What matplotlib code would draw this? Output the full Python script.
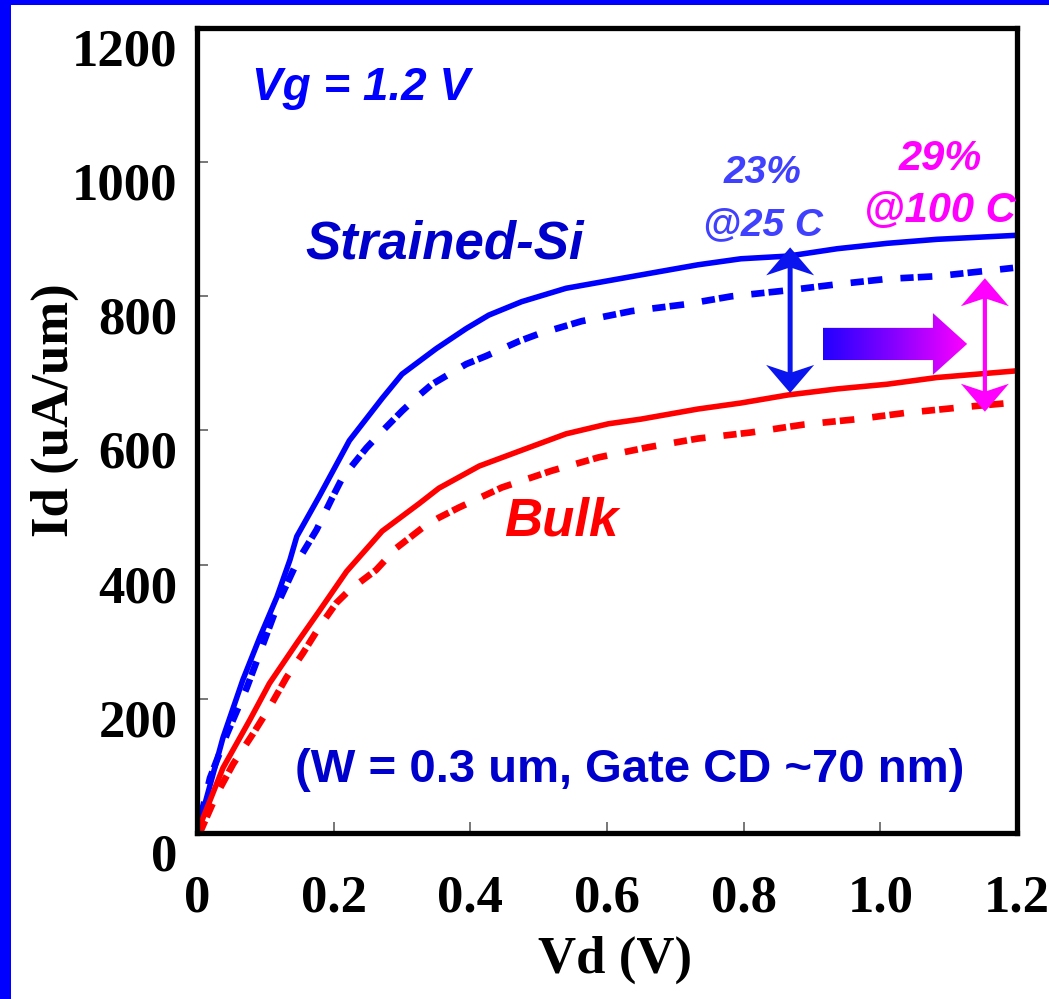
import numpy as np
import matplotlib
matplotlib.use("Agg")
import matplotlib.pyplot as plt
from matplotlib.patches import Polygon, Rectangle
from matplotlib.colors import LinearSegmentedColormap
from matplotlib import transforms

# Id-Vd curves, Vg = 1.2 V
VD_SS_25 = [0, 0.038, 0.067, 0.092, 0.117, 0.136, 0.146, 0.179, 0.223, 0.271, 0.30, 0.35,
            0.394, 0.427, 0.475, 0.54, 0.65, 0.733, 0.796, 0.865, 0.937, 1.01, 1.083, 1.2]
ID_SS_25 = [0, 142, 228, 292, 352, 407, 442, 502, 585, 648, 684, 722,
            752, 772, 792, 812, 832, 847, 856, 860, 871, 879, 885, 891]

VD_SS_100 = [0, 0.019, 0.044, 0.073, 0.099, 0.121, 0.146, 0.175, 0.198, 0.213, 0.248, 0.271,
             0.30, 0.321, 0.344, 0.394, 0.423, 0.471, 0.50, 0.563, 0.636, 0.714, 0.782,
             0.865, 0.937, 1.01, 1.083, 1.2]
ID_SS_100 = [0, 82, 148, 217, 288, 348, 403, 452, 500, 530, 574, 599,
             629, 649, 669, 699, 711, 733, 744, 763, 778, 788, 800,
             809, 818, 826, 830, 843]

VD_BULK_25 = [0, 0.038, 0.077, 0.106, 0.146, 0.179, 0.219, 0.271, 0.325, 0.354, 0.413,
              0.471, 0.54, 0.602, 0.65, 0.733, 0.796, 0.865, 0.937, 1.01, 1.083, 1.2]
ID_BULK_25 = [0, 97, 168, 223, 283, 331, 390, 450, 491, 514, 547,
              569, 595, 610, 617, 632, 641, 653, 662, 669, 679, 689]

VD_BULK_100 = [0.004, 0.029, 0.053, 0.082, 0.106, 0.131, 0.155, 0.179, 0.204, 0.223, 0.262,
               0.292, 0.33, 0.354, 0.383, 0.446, 0.519, 0.588, 0.66, 0.733, 0.81, 0.889,
               0.967, 1.035, 1.123, 1.2]
ID_BULK_100 = [0, 58, 103, 148, 187, 232, 268, 307, 343, 362, 392,
               425, 455, 470, 485, 515, 540, 560, 575, 588, 597, 609,
               617, 626, 635, 642]

X_TICKS = [0, 0.2, 0.4, 0.6, 0.8, 1.0, 1.2]
X_TICK_LABELS = ["0", "0.2", "0.4", "0.6", "0.8", "1.0", "1.2"]
Y_TICKS = [0, 200, 400, 600, 800, 1000, 1200]

# annotation arrows (data coords)
GAIN_25 = (0.868, 873, 656)     # x, top tip, bottom tip
GAIN_100 = (1.153, 827, 628)
TEMP_ARROW = [(0.916, 753), (1.077, 753), (1.077, 775), (1.127, 729),
              (1.077, 683), (1.077, 705), (0.916, 705)]

BLUE = "#0000ff"
RED = "#ff0000"
MAGENTA = "#ff00ff"

plt.rcParams["lines.scale_dashes"] = False

fig = plt.figure(figsize=(10.49, 9.99), dpi=100)
ax = fig.add_axes([197 / 1049, 1 - 833 / 999, 820 / 1049, 805 / 999])

lw_solid = 4.0
lw_dash = 4.8
dash = (9.5, 3, 10.5, 13)
ax.plot(VD_SS_25, ID_SS_25, color=BLUE, lw=lw_solid, solid_joinstyle="round")
ax.plot(VD_SS_100, ID_SS_100, color=BLUE, lw=lw_dash, dashes=dash, dash_capstyle="butt")
ax.plot(VD_BULK_25, ID_BULK_25, color=RED, lw=lw_solid, solid_joinstyle="round")
ax.plot(VD_BULK_100, ID_BULK_100, color=RED, lw=lw_dash, dashes=dash, dash_capstyle="butt")

ax.set_xlim(0, 1.2)
ax.set_ylim(0, 1200)


def stealth(x, y, up, color):
    s = 1 if up else -1
    verts = np.array([(0, 0), (-24, -28 * s), (0, -20 * s), (24, -28 * s)]) / 100.0
    tr = fig.dpi_scale_trans + transforms.ScaledTranslation(x, y, ax.transData)
    ax.add_patch(Polygon(verts, closed=True, transform=tr, facecolor=color,
                         edgecolor="none", zorder=6))


def double_arrow(spec, color, lw):
    x, top, bot = spec
    ax.annotate("", xy=(x, top), xytext=(x, bot),
                arrowprops=dict(arrowstyle="-", lw=lw, color=color,
                                shrinkA=13, shrinkB=13), zorder=5)
    stealth(x, top, True, color)
    stealth(x, bot, False, color)


double_arrow(GAIN_25, "#0a14ee", 3.6)
double_arrow(GAIN_100, MAGENTA, 3.0)

# gradient block arrow (25 C -> 100 C)
poly = Polygon(TEMP_ARROW, closed=True, transform=ax.transData)
xs = [p[0] for p in TEMP_ARROW]
ys = [p[1] for p in TEMP_ARROW]
cmap = LinearSegmentedColormap.from_list("t", ["#2200ff", "#8800ff", MAGENTA])
im = ax.imshow(np.linspace(0, 1, 256).reshape(1, -1), cmap=cmap, aspect="auto",
               extent=(min(xs), max(xs), min(ys), max(ys)), zorder=4)
im.set_clip_path(poly)
ax.set_xlim(0, 1.2)
ax.set_ylim(0, 1200)

# texts
sans = "Liberation Sans"
ax.text(0.08, 1093, "Vg = 1.2 V", color=BLUE, fontsize=33, fontweight="bold",
        fontstyle="italic", family=sans, va="baseline", ha="left")
ax.text(0.158, 857, "Strained-Si", color="#0000cc", fontsize=38, fontweight="bold",
        fontstyle="italic", family=sans, va="baseline", ha="left")
ax.text(0.45, 444, "Bulk", color=RED, fontsize=38, fontweight="bold",
        fontstyle="italic", family=sans, va="baseline", ha="left")
ax.text(0.633, 76, "(W = 0.3 um, Gate CD ~70 nm)", color="#0000cc", fontsize=34,
        fontweight="bold", family=sans, va="baseline", ha="center")
ax.text(0.828, 969, "23%", color="#4040ff", fontsize=28, fontweight="bold",
        fontstyle="italic", family=sans, va="baseline", ha="center")
ax.text(0.828, 891, "@25 C", color="#4040ff", fontsize=28, fontweight="bold",
        fontstyle="italic", family=sans, va="baseline", ha="center")
ax.text(1.087, 988, "29%", color=MAGENTA, fontsize=30, fontweight="bold",
        fontstyle="italic", family=sans, va="baseline", ha="center")
ax.text(1.087, 911, "@100 C", color=MAGENTA, fontsize=30, fontweight="bold",
        fontstyle="italic", family=sans, va="baseline", ha="center")

# axes styling
serif = dict(family="Liberation Serif", fontweight="bold", fontsize=38)
ax.set_xticks(X_TICKS)
ax.set_xticklabels(X_TICK_LABELS, **serif)
ax.set_yticks(Y_TICKS)
ax.set_yticklabels([str(v) for v in Y_TICKS], **serif)
ax.tick_params(direction="in", length=8, width=1.2, color="#606060")
ax.tick_params(axis="x", pad=30)
ax.tick_params(axis="y", pad=14)
for lab in ax.get_yticklabels():
    lab.set_transform(lab.get_transform() +
                      transforms.ScaledTranslation(0, -0.19, fig.dpi_scale_trans))
for sp in ax.spines.values():
    sp.set_linewidth(3.8)
    sp.set_color("black")

ax.set_xlabel("Vd (V)", va="center", **serif)
ax.xaxis.set_label_coords(0.51, -0.158)
ax.set_ylabel("Id (uA/um)", va="center", **serif)
ax.yaxis.set_label_coords(-0.173, 0.525)

# blue frame of the slide
fig.add_artist(Rectangle((0, 0), 11 / 1049, 1, transform=fig.transFigure,
                         facecolor=BLUE, edgecolor="none"))
fig.add_artist(Rectangle((0, 1 - 5 / 999), 1, 5 / 999, transform=fig.transFigure,
                         facecolor=BLUE, edgecolor="none"))

fig.savefig("out.png", dpi=100)
